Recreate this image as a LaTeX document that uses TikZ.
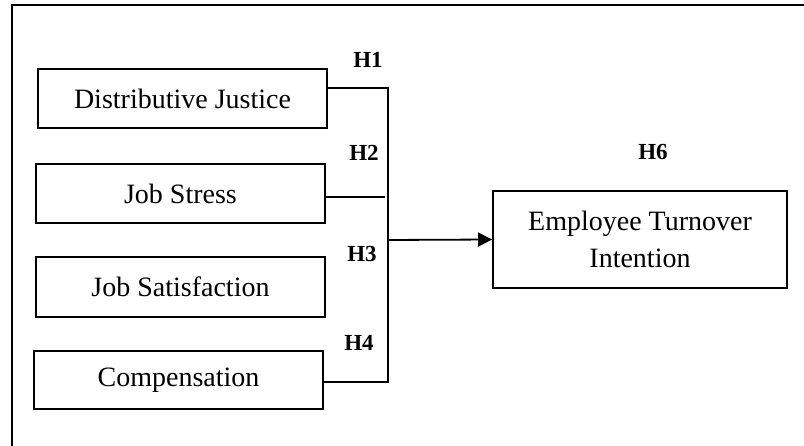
\documentclass[tikz,border=0pt]{standalone}
\usepackage{fontspec}
\setmainfont{Liberation Serif}
\usetikzlibrary{arrows.meta}
\begin{document}
\begin{tikzpicture}[x=1pt,y=-1pt,
  line width=1.8pt,
  varbox/.style={draw, inner sep=0pt, minimum width=289pt, minimum height=59pt,
    font=\fontsize{28}{37}\selectfont, align=center},
  hlabel/.style={inner sep=0pt, font=\fontsize{23}{27}\selectfont\bfseries},
  arr/.style={-{Triangle[length=14pt,width=14pt]}}]
\useasboundingbox (0,0) rectangle (804,446);
% frame
\draw (12,446) -- (12,5) -- (804,5);
% boxes
\node[varbox] (dj) at (182.5,98.5) {Distributive Justice};
\node[varbox] (js) at (180.5,193.5) {Job Stress};
\node[varbox, minimum height=60pt] (jsat) at (180.5,287) {Job Satisfaction};
\node[varbox, minimum height=58pt] (comp) at (178.5,380) {Compensation};
\node[varbox, minimum width=294pt, minimum height=97pt] (ev) at (640,239.5) {Employee Turnover\\Intention};
% labels
\node[hlabel] (h1) at (368,60) {H1};
\node[hlabel] (h2) at (364,153) {H2};
\node[hlabel] (h3) at (362,254) {H3};
\node[hlabel] (h4) at (359,343) {H4};
\node[hlabel] (h6) at (653,152) {H6};
% connectors
\coordinate (top) at (388,88);
\coordinate (bot) at (388,382);
\coordinate (mid) at (388,240);
\draw (dj.east |- top) -- (top) -- (bot) -- (comp.east |- bot);
\draw (js.east |- 0,197) -- (385,197);
\draw[arr] (mid) -- (ev.west);
\end{tikzpicture}
\end{document}
